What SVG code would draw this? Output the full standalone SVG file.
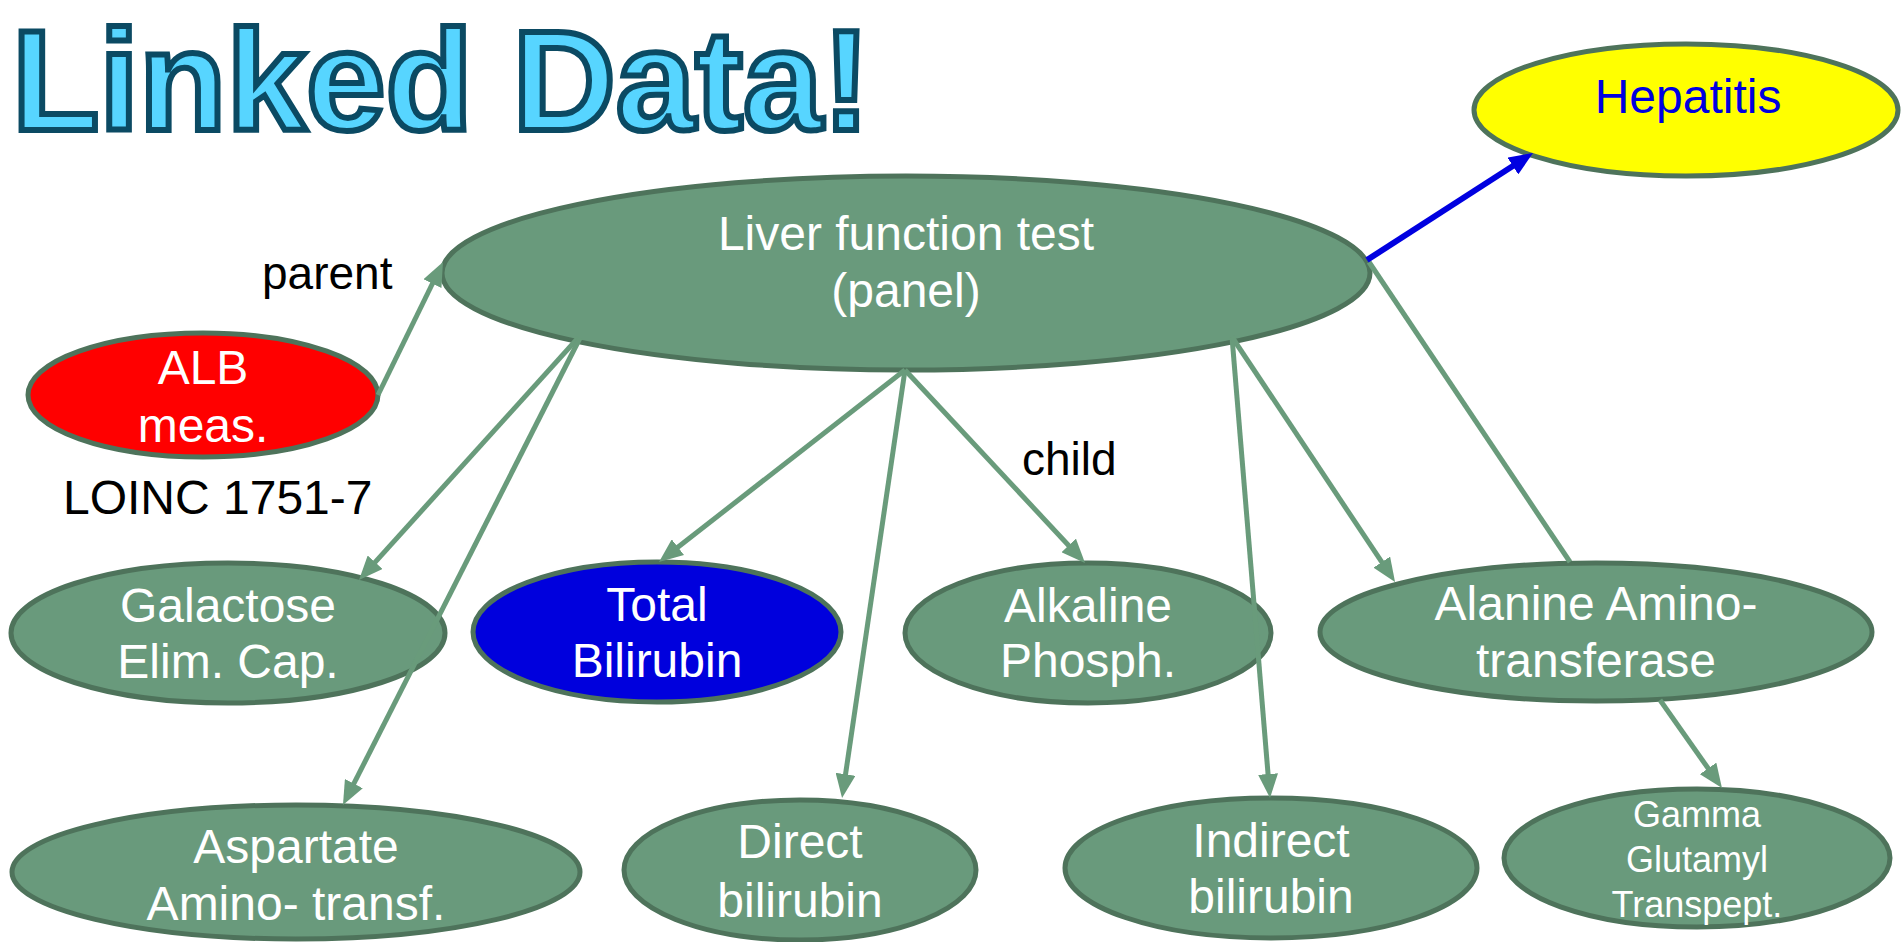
<svg xmlns="http://www.w3.org/2000/svg" width="1901" height="942" viewBox="0 0 1901 942">
  <defs>
    <style>
      text { font-family: "Liberation Sans", Arial, sans-serif; }
      .node { fill: #699A7C; stroke: #4E735B; stroke-width: 5; }
      .lbl { fill: #FFFFFF; font-size: 48px; text-anchor: middle; }
      .small { font-size: 36px; }
      .note { fill: #000000; font-size: 46px; }
      .loinc { fill: #000000; font-size: 48px; }
      .link { stroke: #699B7B; stroke-width: 5; fill: none; }
      .rel { stroke: #0000E0; stroke-width: 6; fill: none; }
      .title { font-size: 143px; font-weight: bold; fill: #57D5FF; stroke: #0B4A63; stroke-width: 6; stroke-linejoin: miter; }
    </style>
    <marker id="head" markerUnits="userSpaceOnUse" markerWidth="24" markerHeight="20" viewBox="0 0 24 20" refX="14" refY="10" orient="auto">
      <path d="M0,0 L24,10 L0,20 z" fill="#699B7B"/>
    </marker>
    <marker id="headBlue" markerUnits="userSpaceOnUse" markerWidth="24" markerHeight="20" viewBox="0 0 24 20" refX="14" refY="10" orient="auto">
      <path d="M0,0 L24,10 L0,20 z" fill="#0000E0"/>
    </marker>
  </defs>

  <rect width="1901" height="942" fill="#FFFFFF"/>

  <!-- heading -->
  <text class="title" x="12" y="130">Linked Data!</text>

  <!-- free-standing labels -->
  <text class="note" x="262" y="289">parent</text>
  <text class="note" x="1022" y="475">child</text>
  <text class="loinc" x="63" y="514">LOINC 1751-7</text>

  <!-- nodes -->
  <g id="hepatitis">
    <ellipse cx="1686" cy="110" rx="212" ry="66" fill="#FFFF00" stroke="#4E735B" stroke-width="5"/>
    <text x="1688" y="113" font-size="48" text-anchor="middle" fill="#0000E0">Hepatitis</text>
  </g>
  <g id="liver-panel">
    <ellipse class="node" cx="906" cy="273" rx="464" ry="97"/>
    <text class="lbl" x="906" y="250">Liver function test</text>
    <text class="lbl" x="906" y="307">(panel)</text>
  </g>
  <g id="alb">
    <ellipse cx="203" cy="395" rx="175" ry="62" fill="#FF0000" stroke="#4E735B" stroke-width="5"/>
    <text class="lbl" x="203" y="384">ALB</text>
    <text class="lbl" x="203" y="442">meas.</text>
  </g>
  <g id="galactose">
    <ellipse class="node" cx="228" cy="633" rx="217" ry="70"/>
    <text class="lbl" x="228" y="622">Galactose</text>
    <text class="lbl" x="228" y="678">Elim. Cap.</text>
  </g>
  <g id="total-bilirubin">
    <ellipse cx="657" cy="632" rx="184" ry="70" fill="#0000DD" stroke="#4E735B" stroke-width="5"/>
    <text class="lbl" x="657" y="621">Total</text>
    <text class="lbl" x="657" y="677">Bilirubin</text>
  </g>
  <g id="alkaline">
    <ellipse class="node" cx="1088" cy="633" rx="183" ry="70"/>
    <text class="lbl" x="1088" y="622">Alkaline</text>
    <text class="lbl" x="1088" y="677">Phosph.</text>
  </g>
  <g id="alanine">
    <ellipse class="node" cx="1596" cy="632" rx="276" ry="69"/>
    <text class="lbl" x="1596" y="620">Alanine Amino-</text>
    <text class="lbl" x="1596" y="677">transferase</text>
  </g>
  <g id="aspartate">
    <ellipse class="node" cx="296" cy="872" rx="284" ry="67"/>
    <text class="lbl" x="296" y="863">Aspartate</text>
    <text class="lbl" x="296" y="920">Amino- transf.</text>
  </g>
  <g id="direct">
    <ellipse class="node" cx="800" cy="870" rx="176" ry="70"/>
    <text class="lbl" x="800" y="858">Direct</text>
    <text class="lbl" x="800" y="917">bilirubin</text>
  </g>
  <g id="indirect">
    <ellipse class="node" cx="1271" cy="868" rx="206" ry="70"/>
    <text class="lbl" x="1271" y="857">Indirect</text>
    <text class="lbl" x="1271" y="913">bilirubin</text>
  </g>
  <g id="gamma">
    <ellipse class="node" cx="1697" cy="858" rx="193" ry="69"/>
    <text class="lbl small" x="1697" y="827">Gamma</text>
    <text class="lbl small" x="1697" y="872">Glutamyl</text>
    <text class="lbl small" x="1697" y="917">Transpept.</text>
  </g>

  <!-- connectors -->
  <g id="connectors">
    <line class="link" x1="378" y1="395" x2="438.6" y2="271" marker-end="url(#head)"/>
    <line class="link" x1="578" y1="338" x2="365.7" y2="572.6" marker-end="url(#head)"/>
    <line class="link" x1="580" y1="338" x2="347.5" y2="796.1" marker-end="url(#head)"/>
    <line class="link" x1="905" y1="370" x2="666.9" y2="555.8" marker-end="url(#head)"/>
    <line class="link" x1="905" y1="370" x2="843.5" y2="788.1" marker-end="url(#head)"/>
    <line class="link" x1="905" y1="370" x2="1078.2" y2="555.7" marker-end="url(#head)"/>
    <line class="link" x1="1232" y1="337" x2="1269.2" y2="788" marker-end="url(#head)"/>
    <line class="link" x1="1232" y1="337" x2="1389.5" y2="573.7" marker-end="url(#head)"/>
    <line class="link" x1="1369" y1="262" x2="1570" y2="562"/>
    <line class="link" x1="1660" y1="700" x2="1716.2" y2="779.8" marker-end="url(#head)"/>
    <line class="rel" x1="1367" y1="260" x2="1524.6" y2="158.4" marker-end="url(#headBlue)"/>
  </g>
</svg>
